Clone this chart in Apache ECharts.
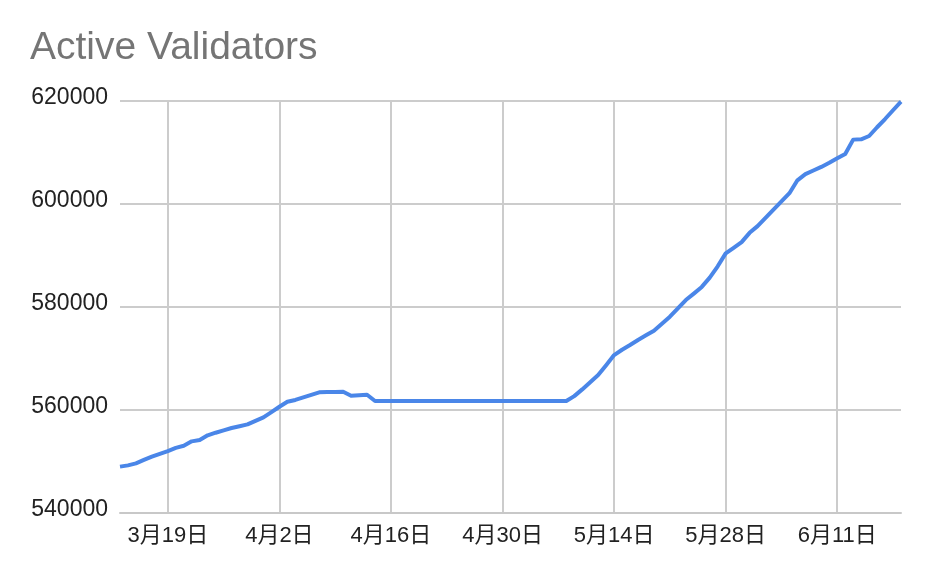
<!DOCTYPE html>
<html><head><meta charset="utf-8">
<script src="https://cdn.jsdelivr.net/npm/echarts@6/dist/echarts.min.js"></script>
<style>html,body{margin:0;padding:0;background:#fff}#c{width:930px;height:577px}</style>
</head><body><div id="c"></div>
<script>
const titleText = "Active Validators";
const startMonth = 3, startDay = 13, dayCount = 99;
const monthLengths = {3: 31, 4: 30, 5: 31, 6: 30};
const categories = [];
(function(){ let m = startMonth, d = startDay; for (let i = 0; i < dayCount; i++) { categories.push(m + "月" + d + "日"); d++; if (d > monthLengths[m]) { d = 1; m++; } } })();
const labelEvery = 14, labelOffset = 6;
const validators = [
 549000,549250,549640,550300,550930,551500,552030,552650,553050,553910,
 554170,555080,555590,556050,556500,556850,557200,557900,558570,559600,
 560630,561600,561950,562450,562950,563430,563480,563500,563550,562770,
 562850,562960,561740,561740,561740,561740,561740,561740,561740,561740,
 561740,561740,561740,561740,561740,561740,561740,561740,561740,561740,
 561740,561740,561740,561740,561740,561740,561740,562700,564000,565400,
 566790,568700,570670,571700,572620,573590,574500,575400,576750,578120,
 579750,581350,582600,583900,585700,587900,590420,591500,592600,594400,
 595700,597300,598900,600500,602100,604600,605800,606500,607200,608000,
 608870,609700,612500,612560,613200,614900,616500,618200,619860
];
const yMin = 540000, yMax = 620000, yStep = 20000;
const showIdx = (i) => (i - labelOffset) % labelEvery === 0;
const chart = echarts.init(document.getElementById('c'), null, {renderer: 'canvas'});
chart.setOption({
  animation: false,
  backgroundColor: '#fff',
  title: { text: titleText, left: 25, top: 24, textStyle: { color: '#757575', fontSize: 39, fontWeight: 'normal', fontFamily: 'Liberation Sans, Arial, sans-serif' } },
  grid: { left: 120, right: 29, top: 101, bottom: 64, containLabel: false },
  xAxis: {
    type: 'category', data: categories, boundaryGap: false,
    axisLine: { show: true, lineStyle: { color: '#c8c8c8', width: 2 } },
    axisTick: { show: false },
    axisLabel: { interval: (i) => showIdx(i), color: '#222', fontSize: 22, margin: 12, fontFamily: 'Liberation Sans, Noto Sans CJK SC, sans-serif' },
    splitLine: { show: true, interval: (i) => showIdx(i), lineStyle: { color: '#cccccc', width: 2 } }
  },
  yAxis: {
    type: 'value', min: yMin, max: yMax, interval: yStep,
    axisLine: { show: false }, axisTick: { show: false },
    axisLabel: { formatter: (v) => String(v), color: '#222', fontSize: 23, margin: 12, verticalAlign: 'bottom', lineHeight: 23, padding: [0,0,-8,0], fontFamily: 'Liberation Sans, Arial, sans-serif' },
    splitLine: { lineStyle: { color: '#cccccc', width: 2 } }
  },
  series: [{
    type: 'line', data: validators, showSymbol: false, symbol: 'none',
    lineStyle: { color: '#4a86e8', width: 4, join: 'round' }
  }]
});
</script></body></html>
